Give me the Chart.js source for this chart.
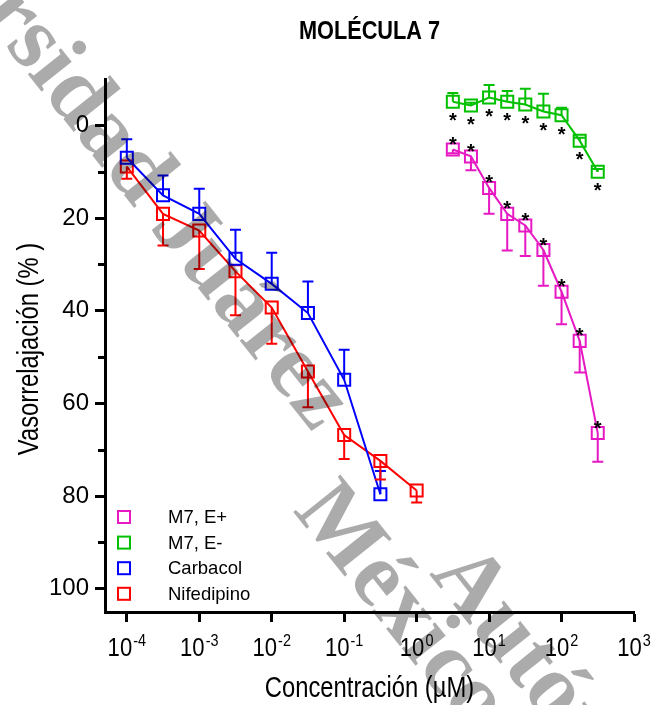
<!DOCTYPE html>
<html>
<head>
<meta charset="utf-8">
<script src="https://cdn.jsdelivr.net/npm/chart.js@4.4.1/dist/chart.umd.min.js"></script>
<style>
  body { margin: 0; background: #fff; }
  #wrap { width: 652px; height: 705px; position: relative; }
</style>
</head>
<body>
<div id="wrap"><canvas id="chart-1"></canvas></div>
<script>
// concentrations (uM)
const concLow = [0.0001, 0.000316, 0.001, 0.00316, 0.01, 0.0316, 0.1, 0.316, 1];
const concHigh = [3.16, 5.62, 10, 17.8, 31.6, 56.2, 100, 178, 316];

// vasorelaxation (%) and one-sided error
const m7EPlus = [5.2, 6.7, 13.5, 19.1, 21.6, 26.9, 35.9, 46.5, 66.4];
const m7EPlusErr = [0.8, 3.0, 5.6, 7.9, 6.6, 7.7, 7.0, 6.8, 6.2];
const m7EMinus = [-5.1, -4.3, -6.0, -5.1, -4.5, -3.0, -2.2, 3.3, 10.0];
const m7EMinusErr = [1.9, 0.6, 2.7, 2.3, 3.4, 3.8, 1.6, 0.6, 0.6];
const carbacol = [7.0, 15.1, 19.1, 28.8, 34.2, 40.5, 54.9, 79.6];
const carbacolErr = [4.0, 4.3, 5.4, 6.3, 6.7, 6.8, 6.5, 5.0];
const nifedipino = [8.9, 19.1, 22.7, 31.5, 39.3, 53.1, 66.8, 72.4, 78.8];
const nifedipinoErr = [2.6, 6.8, 8.3, 9.5, 7.8, 7.7, 5.2, 4.0, 2.6];

const yTicks = [0, 20, 40, 60, 80, 100];
const yMinorTicks = [10, 30, 50, 70, 90];
const xTickExp = [-4, -3, -2, -1, 0, 1, 2, 3];

const SANS = "'Liberation Sans', Arial, sans-serif";

function pts(xs, ys) {
  return ys.map((y, i) => ({ x: xs[i], y: y }));
}

function series(label, color, xs, ys, errs, dir, stars) {
  return {
    label: label,
    data: pts(xs, ys),
    errs: errs,
    errDir: dir,
    stars: stars,
    borderColor: color,
    backgroundColor: color,
    borderWidth: 2,
    pointStyle: 'rect',
    pointRadius: 8.5,
    pointHoverRadius: 8.5,
    pointBorderWidth: 2,
    pointBackgroundColor: 'rgba(0,0,0,0)',
    pointBorderColor: color,
    tension: 0
  };
}

const datasets = [
  series('M7, E+', '#e619c3', concHigh, m7EPlus, m7EPlusErr, 1, 'above'),
  series('M7, E-', '#00c000', concHigh, m7EMinus, m7EMinusErr, -1, 'below'),
  series('Carbacol', '#0000ff', concLow, carbacol, carbacolErr, -1, null),
  series('Nifedipino', '#ff0000', concLow, nifedipino, nifedipinoErr, 1, null)
];

// condensed look (the original uses a narrow face)
function narrowText(ctx, text, x, y, font, align, sx) {
  ctx.save();
  ctx.font = font;
  ctx.translate(x, y);
  ctx.scale(sx || 0.82, 1);
  ctx.textAlign = align;
  ctx.fillText(text, 0, 0);
  ctx.restore();
}

// error bars + asterisks
const errorBars = {
  id: 'errorBars',
  afterDatasetsDraw(chart) {
    const ctx = chart.ctx;
    const ys = chart.scales.y;
    chart.data.datasets.forEach((ds, i) => {
      const meta = chart.getDatasetMeta(i);
      ctx.save();
      ctx.strokeStyle = ds.borderColor;
      ctx.lineWidth = 2;
      meta.data.forEach((el, j) => {
        const v = ds.data[j].y + ds.errDir * ds.errs[j];
        const y2 = ys.getPixelForValue(v);
        ctx.beginPath();
        ctx.moveTo(el.x, el.y);
        ctx.lineTo(el.x, y2);
        ctx.moveTo(el.x - 5.5, y2);
        ctx.lineTo(el.x + 5.5, y2);
        ctx.stroke();
      });
      if (ds.stars) {
        ctx.fillStyle = '#000';
        ctx.font = "bold 20px " + SANS;
        ctx.textAlign = 'center';
        ctx.textBaseline = 'alphabetic';
        meta.data.forEach(el => {
          const t = ds.stars === 'above' ? el.y - 10 : el.y + 14;
          ctx.fillText('*', el.x, t + 11.5);
        });
      }
      ctx.restore();
    });
  }
};

// texts, minor ticks, x tick labels, legend, watermark
const decor = {
  id: 'decor',
  afterDraw(chart) {
    const ctx = chart.ctx;
    const xs = chart.scales.x;
    const ys = chart.scales.y;
    const area = chart.chartArea;
    ctx.save();
    ctx.fillStyle = '#000';
    ctx.textBaseline = 'alphabetic';

    // minor y ticks
    ctx.strokeStyle = '#000';
    ctx.lineWidth = 3;
    yMinorTicks.forEach(v => {
      const y = Math.round(ys.getPixelForValue(v)) + 0.5;
      ctx.beginPath();
      ctx.moveTo(area.left - 7, y);
      ctx.lineTo(area.left, y);
      ctx.stroke();
    });

    // title
    narrowText(ctx, 'MOLÉCULA 7', (area.left + area.right) / 2, 39, "bold 26.5px " + SANS, 'center');

    // x tick labels 10^n
    xTickExp.forEach(e => {
      const px = xs.getPixelForValue(Math.pow(10, e));
      const sup = e < 0 ? '-' + Math.abs(e) : String(e);
      ctx.font = "26px " + SANS;
      const w1 = ctx.measureText('10').width * 0.85;
      ctx.font = "17px " + SANS;
      const w2 = ctx.measureText(sup).width * 0.85;
      const x0 = px - (w1 + w2 + 1) / 2;
      narrowText(ctx, '10', x0, 656, "26px " + SANS, 'left', 0.85);
      narrowText(ctx, sup, x0 + w1 + 1, 646, "17px " + SANS, 'left', 0.85);
    });

    // axis titles
    narrowText(ctx, 'Concentración (µM)', (area.left + area.right) / 2, 697, "29px " + SANS, 'center');
    ctx.save();
    ctx.translate(38, 349);
    ctx.rotate(-Math.PI / 2);
    narrowText(ctx, 'Vasorrelajación (% )', 0, 0, "29px " + SANS, 'center');
    ctx.restore();

    // legend
    ctx.font = "18.5px " + SANS;
    ctx.textAlign = 'left';
    ctx.textBaseline = 'middle';
    chart.data.datasets.forEach((ds, i) => {
      const y = 517 + i * 25.6;
      ctx.strokeStyle = ds.borderColor;
      ctx.lineWidth = 2;
      ctx.strokeRect(118, y - 6, 12, 12);
      ctx.fillStyle = '#000';
      ctx.fillText(ds.label, 168, y + 1);
    });

    // watermark
    ctx.fillStyle = 'rgba(0,0,0,0.33)';
    ctx.font = "bold 92px 'Liberation Serif', 'DejaVu Serif', serif";
    ctx.textAlign = 'left';
    ctx.textBaseline = 'middle';
    const ang = Math.atan2(0.783, 0.623);
    const marks = [
      ['Universidad Juárez', 'Universidad ', 'J', 182, 230],
      ['Autónoma de Tabasco', '', 'A', 468, 585],
      ['México', '', 'M', 338, 530]
    ];
    marks.forEach(m => {
      const off = ctx.measureText(m[1]).width + ctx.measureText(m[2]).width / 2;
      ctx.save();
      ctx.translate(m[3], m[4]);
      ctx.rotate(ang);
      ctx.fillText(m[0], -off, 0);
      ctx.restore();
    });

    ctx.restore();
  }
};

const ctx1 = document.getElementById('chart-1');

new Chart(ctx1, {
  type: 'line',
  data: { datasets: datasets },
  options: {
    responsive: true,
    maintainAspectRatio: false,
    animation: false,
    layout: { padding: { top: 79, right: 18, left: 0, bottom: 0 } },
    plugins: {
      legend: { display: false },
      title: { display: false },
      tooltip: { enabled: false }
    },
    scales: {
      x: {
        type: 'logarithmic',
        min: 0.00005,
        max: 1000,
        afterBuildTicks: s => { s.ticks = xTickExp.map(e => ({ value: Math.pow(10, e) })); },
        afterFit: s => { s.height = 93; },
        ticks: { display: false },
        grid: { drawOnChartArea: false, drawTicks: true, tickLength: 10, tickWidth: 3, tickColor: '#000' },
        border: { display: true, color: '#000', width: 3 }
      },
      y: {
        reverse: true,
        min: -10,
        max: 105,
        afterBuildTicks: s => { s.ticks = yTicks.map(v => ({ value: v })); },
        afterFit: s => { s.width = 105; },
        ticks: {
          color: '#000',
          padding: 6,
          font: { family: SANS, size: 24 },
          callback: v => String(v)
        },
        grid: { drawOnChartArea: false, drawTicks: true, tickLength: 10, tickWidth: 3, tickColor: '#000' },
        border: { display: true, color: '#000', width: 3 }
      }
    }
  },
  plugins: [errorBars, decor]
});
</script>
</body>
</html>
